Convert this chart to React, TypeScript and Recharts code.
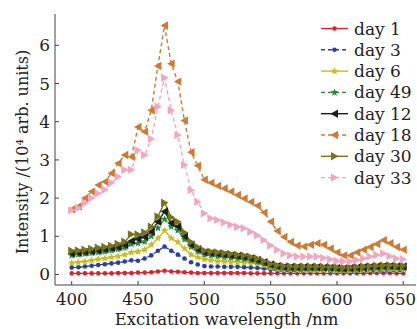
import React from 'react';
import { LineChart, Line, XAxis, YAxis, Legend } from 'recharts';

const wavelengths = [
  400, 405, 410, 415, 420, 425, 430, 435, 440, 445,
  450, 455, 460, 465, 470, 475, 480, 485, 490, 495,
  500, 505, 510, 515, 520, 525, 530, 535, 540, 545,
  550, 555, 560, 565, 570, 575, 580, 585, 590, 595,
  600, 605, 610, 615, 620, 625, 630, 635, 640, 645,
  650,
];

const day1 = [
  0.03, 0.03, 0.03, 0.03, 0.03, 0.03, 0.03, 0.04, 0.04, 0.04,
  0.05, 0.05, 0.06, 0.08, 0.1, 0.08, 0.07, 0.06, 0.05, 0.04,
  0.04, 0.04, 0.04, 0.04, 0.04, 0.04, 0.04, 0.03, 0.03, 0.03,
  0.03, 0.03, 0.03, 0.03, 0.03, 0.03, 0.03, 0.03, 0.03, 0.03,
  0.03, 0.03, 0.03, 0.03, 0.03, 0.04, 0.04, 0.04, 0.04, 0.03,
  0.03,
];
const day3 = [
  0.18, 0.19, 0.21, 0.23, 0.25, 0.27, 0.29, 0.31, 0.34, 0.37,
  0.36, 0.42, 0.5, 0.62, 0.73, 0.62, 0.52, 0.42, 0.32, 0.26,
  0.22, 0.21, 0.21, 0.2, 0.2, 0.2, 0.19, 0.18, 0.17, 0.16,
  0.13, 0.1, 0.08, 0.08, 0.07, 0.07, 0.07, 0.07, 0.07, 0.07,
  0.06, 0.06, 0.06, 0.07, 0.07, 0.08, 0.08, 0.09, 0.09, 0.08,
  0.08,
];
const day6 = [
  0.3, 0.32, 0.34, 0.37, 0.4, 0.42, 0.45, 0.48, 0.52, 0.58,
  0.6, 0.65, 0.78, 0.95, 1.15, 0.95, 0.85, 0.68, 0.52, 0.45,
  0.4, 0.37, 0.35, 0.34, 0.33, 0.32, 0.31, 0.3, 0.28, 0.24,
  0.18, 0.14, 0.12, 0.12, 0.11, 0.11, 0.11, 0.11, 0.11, 0.11,
  0.1, 0.1, 0.1, 0.11, 0.11, 0.12, 0.12, 0.13, 0.13, 0.12,
  0.12,
];
const day49 = [
  0.5, 0.52, 0.54, 0.56, 0.58, 0.6, 0.63, 0.66, 0.7, 0.8,
  0.82, 0.86, 1.0, 1.22, 1.45, 1.25, 1.15, 0.92, 0.72, 0.6,
  0.52, 0.5, 0.48, 0.46, 0.44, 0.42, 0.4, 0.37, 0.33, 0.28,
  0.22, 0.18, 0.16, 0.15, 0.15, 0.15, 0.15, 0.15, 0.15, 0.14,
  0.13, 0.12, 0.13, 0.14, 0.15, 0.16, 0.17, 0.18, 0.18, 0.17,
  0.17,
];
const day12 = [
  0.55, 0.57, 0.59, 0.61, 0.63, 0.66, 0.69, 0.72, 0.77, 0.88,
  0.93, 0.98, 1.12, 1.38, 1.65, 1.35, 1.25, 1.0, 0.78, 0.66,
  0.58, 0.56, 0.54, 0.52, 0.5, 0.48, 0.46, 0.42, 0.38, 0.32,
  0.26, 0.22, 0.2, 0.19, 0.19, 0.19, 0.19, 0.19, 0.18, 0.18,
  0.17, 0.16, 0.17, 0.18, 0.19, 0.2, 0.21, 0.22, 0.22, 0.21,
  0.21,
];
const day18 = [
  1.7, 1.78, 2.0, 2.17, 2.34, 2.43, 2.65, 2.91, 3.13, 3.08,
  3.86, 3.74, 4.3, 5.46, 6.52, 5.52, 5.05, 4.03, 3.2, 2.85,
  2.48, 2.4, 2.32, 2.25, 2.17, 2.08, 1.99, 1.9, 1.8, 1.62,
  1.38, 1.14, 0.98, 0.85, 0.76, 0.73, 0.78, 0.82, 0.78, 0.68,
  0.58, 0.5, 0.5, 0.58, 0.65, 0.72, 0.8, 0.9, 0.82, 0.72,
  0.65,
];
const day30 = [
  0.62, 0.63, 0.65, 0.67, 0.7, 0.72, 0.75, 0.8, 0.86, 1.05,
  1.05, 1.1, 1.25, 1.52, 1.88, 1.5, 1.38, 1.1, 0.85, 0.72,
  0.63, 0.6, 0.58, 0.56, 0.54, 0.52, 0.5, 0.46, 0.42, 0.35,
  0.28, 0.24, 0.22, 0.21, 0.21, 0.21, 0.21, 0.21, 0.2, 0.2,
  0.19, 0.18, 0.19, 0.2, 0.21, 0.22, 0.23, 0.24, 0.24, 0.23,
  0.23,
];
const day33 = [
  1.68, 1.74, 1.87, 2.0, 2.12, 2.22, 2.4, 2.56, 2.74, 2.74,
  3.25, 3.12, 3.55, 4.4, 5.15, 4.3, 3.65, 2.87, 2.21, 1.9,
  1.6, 1.47, 1.43, 1.36, 1.3, 1.25, 1.21, 1.12, 1.03, 0.9,
  0.76, 0.65, 0.55, 0.5, 0.47, 0.47, 0.47, 0.47, 0.43, 0.4,
  0.36, 0.34, 0.34, 0.38, 0.42, 0.47, 0.51, 0.55, 0.48, 0.42,
  0.4,
];

const xTicks = [400, 450, 500, 550, 600, 650];
const yTicks = [0, 1, 2, 3, 4, 5, 6];

type Shape = 'circle' | 'star' | 'triL' | 'triR';
interface SeriesDef { key: string; name: string; values: number[]; color: string; dashed: boolean; shape: Shape; }

const series: SeriesDef[] = [
  { key: 'd1', name: 'day 1', values: day1, color: '#e0222e', dashed: false, shape: 'circle' },
  { key: 'd3', name: 'day 3', values: day3, color: '#2740a8', dashed: true, shape: 'circle' },
  { key: 'd6', name: 'day 6', values: day6, color: '#c9bd1e', dashed: false, shape: 'star' },
  { key: 'd49', name: 'day 49', values: day49, color: '#238a35', dashed: true, shape: 'star' },
  { key: 'd12', name: 'day 12', values: day12, color: '#1e1e1e', dashed: false, shape: 'triL' },
  { key: 'd18', name: 'day 18', values: day18, color: '#cc7a36', dashed: true, shape: 'triL' },
  { key: 'd30', name: 'day 30', values: day30, color: '#77741a', dashed: false, shape: 'triR' },
  { key: 'd33', name: 'day 33', values: day33, color: '#f2a6c2', dashed: true, shape: 'triR' },
];

const data = wavelengths.map((w, i) => {
  const row: Record<string, number> = { w };
  series.forEach((s) => { row[s.key] = s.values[i]; });
  return row;
});

const FONT = '"DejaVu Serif", serif';
const TEXT = '#222';
const AXIS = '#444';

function Marker({ cx, cy, shape, color }: { cx: number; cy: number; shape: Shape; color: string }) {
  if (cx == null || cy == null || isNaN(cx) || isNaN(cy)) return null;
  if (shape === 'circle') return <circle cx={cx} cy={cy} r={2.3} fill={color} stroke="none" />;
  if (shape === 'star') {
    const pts: string[] = [];
    for (let k = 0; k < 10; k++) {
      const r = k % 2 === 0 ? 4 : 1.8;
      const a = -Math.PI / 2 + (k * Math.PI) / 5;
      pts.push(`${cx + r * Math.cos(a)},${cy + r * Math.sin(a)}`);
    }
    return <polygon points={pts.join(' ')} fill={color} stroke="none" />;
  }
  if (shape === 'triL') {
    return <polygon points={`${cx - 4},${cy} ${cx + 3.5},${cy - 4.2} ${cx + 3.5},${cy + 4.2}`} fill={color} stroke="none" />;
  }
  return <polygon points={`${cx + 4},${cy} ${cx - 3.5},${cy - 4.2} ${cx - 3.5},${cy + 4.2}`} fill={color} stroke="none" />;
}

const X_MARGIN = 8;
const Y_MARGIN = 6;

function XTick(props: any) {
  const { x, y, payload } = props;
  const axisY = y - X_MARGIN;
  const isLast = payload.value === 650;
  return (
    <g>
      <line x1={x} x2={x} y1={axisY} y2={axisY - 4} stroke={AXIS} strokeWidth={1} />
      <text
        x={isLast ? 416 : x}
        y={axisY + 14.5}
        textAnchor={isLast ? 'end' : 'middle'}
        dominantBaseline="central"
        fontFamily={FONT}
        fontSize={16.5}
        fill={TEXT}
      >
        {payload.value}
      </text>
    </g>
  );
}

function YTick(props: any) {
  const { x, y, payload } = props;
  const axisX = x + Y_MARGIN;
  return (
    <g>
      <line x1={axisX} x2={axisX + 4} y1={y} y2={y} stroke={AXIS} strokeWidth={1} />
      <text x={axisX - 5} y={y} textAnchor="end" dominantBaseline="central" fontFamily={FONT} fontSize={17} fill={TEXT}>
        {payload.value}
      </text>
    </g>
  );
}

function LegendBox() {
  const rowH = 21.3;
  return (
    <svg width={100} height={175} style={{ display: 'block' }}>
      {series.map((s, i) => {
        const cy = 10.5 + i * rowH;
        return (
          <g key={s.key}>
            <line x1={3} x2={30} y1={cy} y2={cy} stroke={s.color} strokeWidth={1.4} strokeDasharray={s.dashed ? '4 3' : undefined} />
            <Marker cx={16.5} cy={cy} shape={s.shape} color={s.color} />
            <text x={36} y={cy} dominantBaseline="central" fontFamily={FONT} fontSize={17} fill={TEXT}>{s.name}</text>
          </g>
        );
      })}
    </svg>
  );
}

export default function App() {
  return (
    <div style={{ position: 'fixed', left: 0, top: 0, width: 417, height: 329, background: '#fff' }}>
      <LineChart width={417} height={329} data={data} margin={{ top: 14, right: 1, bottom: 0, left: 0 }}>
        <XAxis
          dataKey="w"
          type="number"
          domain={[387.4, 659.6]}
          ticks={xTicks}
          height={44}
          tickSize={0}
          tickMargin={X_MARGIN}
          tickLine={false}
          axisLine={{ stroke: AXIS, strokeWidth: 1 }}
          tick={<XTick />}
          interval={0}
        />
        <XAxis xAxisId="top" orientation="top" dataKey="w" type="number" domain={[387.4, 659.6]} height={0} tick={false} tickLine={false} axisLine={{ stroke: AXIS, strokeWidth: 1 }} />
        <YAxis
          type="number"
          domain={[-0.275, 6.82]}
          ticks={yTicks}
          width={55}
          tickSize={0}
          tickMargin={Y_MARGIN}
          tickLine={false}
          axisLine={{ stroke: AXIS, strokeWidth: 1 }}
          tick={<YTick />}
          interval={0}
          allowDataOverflow
        />
        <YAxis yAxisId="right" orientation="right" type="number" domain={[-0.275, 6.82]} width={0} tick={false} tickLine={false} axisLine={{ stroke: AXIS, strokeWidth: 1 }} />
        {series.map((s) => (
          <Line
            key={s.key}
            dataKey={s.key}
            name={s.name}
            stroke={s.color}
            strokeWidth={1.4}
            strokeDasharray={s.dashed ? '4 3' : undefined}
            isAnimationActive={false}
            dot={(p: any) => <Marker key={`${s.key}-${p.index}`} cx={p.cx} cy={p.cy} shape={s.shape} color={s.color} />}
            activeDot={false}
          />
        ))}
        <Legend
          layout="vertical"
          align="center"
          verticalAlign="middle"
          content={() => <LegendBox />}
          wrapperStyle={{ position: 'absolute', left: 318, top: 18, width: 100, height: 175 }}
        />
        <text
          x={22}
          y={152}
          transform="rotate(-90 22 152)"
          textAnchor="middle"
          dominantBaseline="central"
          fontFamily={FONT}
          fontSize={16}
          fill={TEXT}
        >
          Intensity /(10⁴ arb. units)
        </text>
        <text x={226.5} y={319.5} textAnchor="middle" dominantBaseline="central" fontFamily={FONT} fontSize={16.5} fill={TEXT}>
          Excitation wavelength /nm
        </text>
      </LineChart>
    </div>
  );
}
